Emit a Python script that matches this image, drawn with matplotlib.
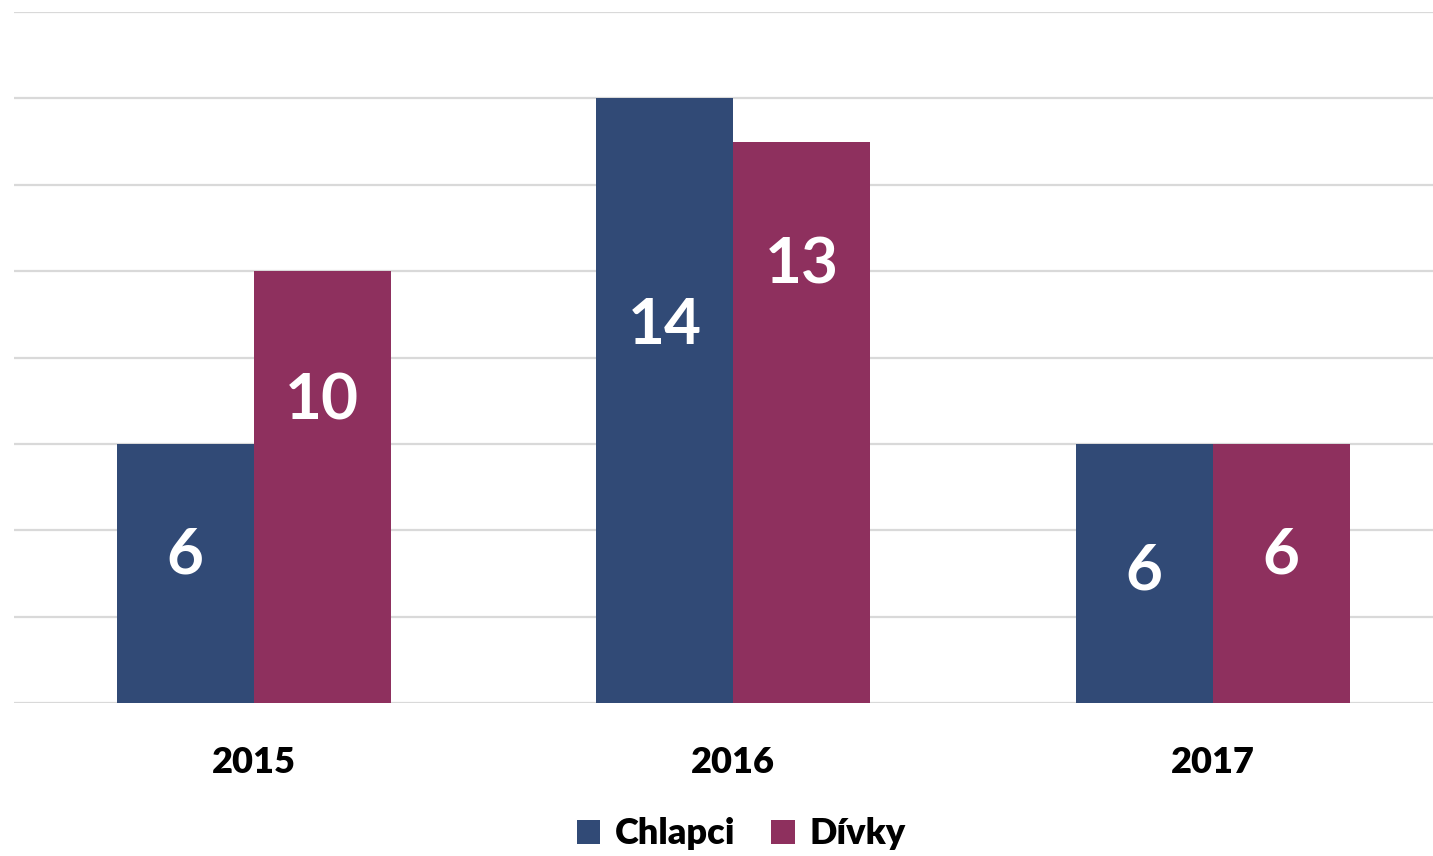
import matplotlib.pyplot as plt
import numpy as np

years = ["2015", "2016", "2017"]
chlapci = [6, 14, 6]
divky = [10, 13, 6]
series_names = ["Chlapci", "Dívky"]

# where the value labels sit inside the bars (fraction of bar height from base)
chlapci_label_pos = [0.57, 0.625, 0.51]
divky_label_pos = [0.70, 0.78, 0.57]

navy = "#314A76"
maroon = "#8E305E"
font = "Lato"

fig = plt.figure(figsize=(14.33, 8.56), dpi=100)
ax = fig.add_axes([14 / 1433, (856 - 703) / 856, 1 - 14 / 1433, (703 - 12) / 856])

x = np.arange(len(years))
w = 0.2857
b1 = ax.bar(x - w / 2, chlapci, w, color=navy, label=series_names[0], zorder=3)
b2 = ax.bar(x + w / 2, divky, w, color=maroon, label=series_names[1], zorder=3)

for bars, vals, pos in [(b1, chlapci, chlapci_label_pos), (b2, divky, divky_label_pos)]:
    for bar, v, p in zip(bars, vals, pos):
        ax.text(bar.get_x() + bar.get_width() / 2, v * p, str(v),
                ha="center", va="center", color="white", fontsize=46,
                fontweight="bold", family=font, zorder=4)

ax.set_ylim(0, 16)
ax.set_xlim(-0.5, (1433 - 14) / 479.5 - 0.5)
ax.set_yticks(np.arange(0, 17, 2))
ax.yaxis.grid(True, color="#D9D9D9", linewidth=1.6, zorder=0)
ax.set_yticklabels([])
ax.tick_params(axis="y", length=0)
ax.set_xticks(x)
ax.set_xticklabels(years, fontsize=26, fontweight="heavy", family=font)
ax.tick_params(axis="x", length=0, pad=31)
for s in ax.spines.values():
    s.set_visible(False)

leg = fig.legend(handles=[b1, b2], labels=series_names, loc="center",
                 bbox_to_anchor=(741 / 1433, 1 - 834 / 856), ncol=2, frameon=False,
                 prop={"family": font, "weight": "heavy", "size": 26},
                 handlelength=0.65, handleheight=0.65, handletextpad=0.4, columnspacing=1.0)

fig.savefig("out.png", dpi=100)
